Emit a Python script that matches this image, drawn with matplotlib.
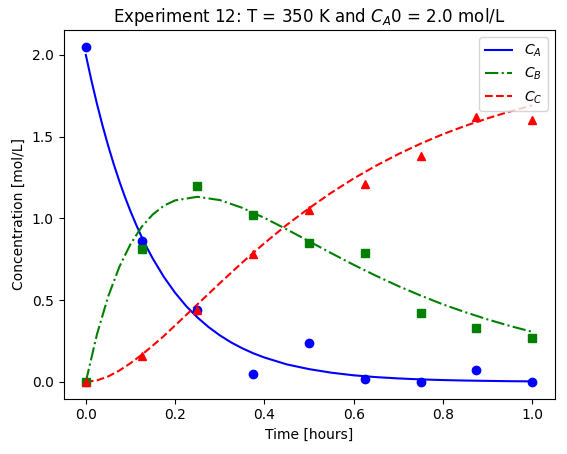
import matplotlib
matplotlib.use("Agg")
import matplotlib.pyplot as plt

t_obs = [0, 0.125, 0.25, 0.375, 0.5, 0.625, 0.75, 0.875, 1.0]
ca_obs = [2.05, 0.86, 0.44, 0.05, 0.24, 0.02, 0.0, 0.07, 0.0]
cb_obs = [0.0, 0.81, 1.20, 1.02, 0.85, 0.79, 0.42, 0.33, 0.27]
cc_obs = [0.0, 0.16, 0.44, 0.78, 1.05, 1.21, 1.38, 1.62, 1.60]

t_a = [0, 0.0125, 0.025, 0.0375, 0.05, 0.0625, 0.075, 0.0875, 0.1, 0.1125, 0.125, 0.1375,
       0.15, 0.175, 0.2, 0.225, 0.25, 0.275, 0.3, 0.325, 0.35, 0.375, 0.4, 0.45, 0.5, 0.55,
       0.6, 0.65, 0.7, 0.75, 0.8, 0.85, 0.9, 0.95, 1.0]
ca_fit = [2, 1.844, 1.70, 1.567, 1.445, 1.332, 1.228, 1.132, 1.044, 0.963, 0.887, 0.818,
          0.754, 0.641, 0.545, 0.463, 0.394, 0.335, 0.285, 0.242, 0.206, 0.175, 0.149, 0.107,
          0.078, 0.056, 0.040, 0.029, 0.021, 0.015, 0.011, 0.008, 0.006, 0.004, 0.003]

t_fit = [0, 0.025, 0.05, 0.075, 0.1, 0.125, 0.15, 0.175, 0.2, 0.25, 0.3, 0.35, 0.4,
         0.45, 0.5, 0.55, 0.6, 0.65, 0.7, 0.75, 0.8, 0.85, 0.9, 0.95, 1.0]
cb_fit = [0, 0.291, 0.522, 0.703, 0.842, 0.948, 1.024, 1.078, 1.110, 1.132, 1.112, 1.065,
          1.003, 0.933, 0.860, 0.787, 0.716, 0.649, 0.586, 0.528, 0.474, 0.426, 0.382, 0.342, 0.306]
cc_fit = [0, 0.009, 0.033, 0.069, 0.114, 0.165, 0.222, 0.281, 0.345, 0.474, 0.603, 0.729,
          0.848, 0.960, 1.062, 1.157, 1.244, 1.322, 1.393, 1.457, 1.515, 1.566, 1.612, 1.654, 1.691]

fig, ax = plt.subplots(figsize=(5.67, 4.54), dpi=100)
ax.plot(t_a, ca_fit, 'b-', label='$C_A$')
ax.plot(t_fit, cb_fit, 'g-.', label='$C_B$')
ax.plot(t_fit, cc_fit, 'r--', label='$C_C$')
ax.plot(t_obs, ca_obs, 'bo')
ax.plot(t_obs, cb_obs, 'gs')
ax.plot(t_obs, cc_obs, 'r^')
ax.set_xlabel('Time [hours]')
ax.set_ylabel('Concentration [mol/L]')
ax.set_title('Experiment 12: T = 350 K and $C_A$0 = 2.0 mol/L')
ax.legend(loc='upper right')
fig.subplots_adjust(left=0.112, right=0.978, bottom=0.122, top=0.934)
fig.savefig('out.png')
